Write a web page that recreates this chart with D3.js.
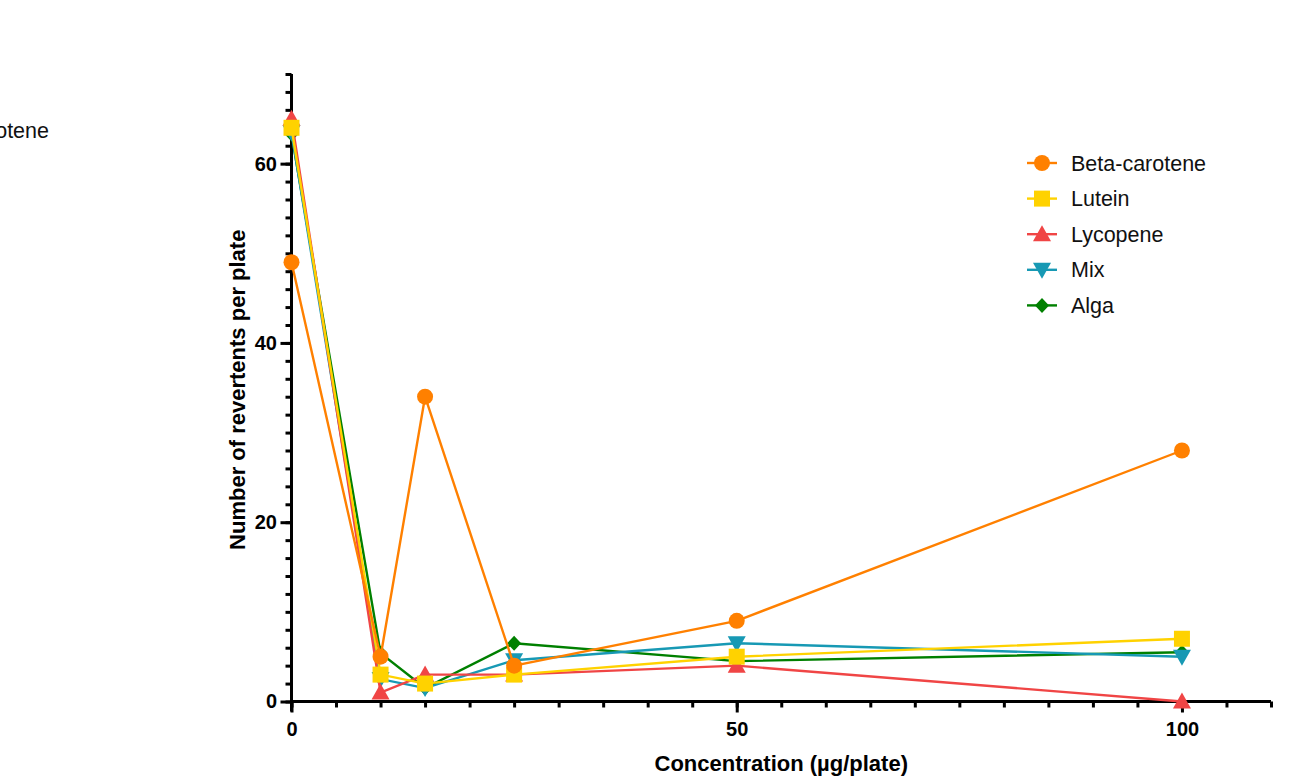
<!DOCTYPE html>
<html>
<head>
<meta charset="utf-8">
<script src="https://cdn.jsdelivr.net/npm/d3@7"></script>
<style>
  body { margin: 0; background: #fff; }
  svg { display: block; font-family: "Liberation Sans", Arial, sans-serif; }
</style>
</head>
<body>
<svg id="chart" width="1291" height="781"></svg>
<script>
// concentrations (µg/plate)
var concentrations = [0, 10, 15, 25, 50, 100];

var seriesNames = ["Beta-carotene", "Lutein", "Lycopene", "Mix", "Alga"];
var betaCarotene = [49, 5, 34, 4, 9, 28];
var lutein       = [64, 3, 2, 3, 5, 7];
var lycopene     = [65, 1, 3, 3, 4, 0];
var mix          = [63.5, 2.5, 1.5, 4.6, 6.5, 5];
var alga         = [63.3, 5.4, 1.5, 6.5, 4.5, 5.5];

var xTicksMajor = [0, 50, 100];
var yTicksMajor = [0, 20, 40, 60];

var colors = ["#ff8000", "#ffd200", "#f04545", "#1799b4", "#008000"];
var shapes = ["circle", "square", "triUp", "triDown", "diamond"];
var allValues = [betaCarotene, lutein, lycopene, mix, alga];

var svg = d3.select("#chart");

var x = d3.scaleLinear().domain([0, 110]).range([291.5, 1271]);
var y = d3.scaleLinear().domain([0, 70]).range([701.5, 74]);

// marker path generator
function marker(shape) {
  if (shape == "circle") return d3.symbol().type(d3.symbolCircle).size(Math.PI * 8 * 8)();
  if (shape == "square") return "M-8,-8H8V8H-8Z";
  if (shape == "triUp") return "M0,-9L9,7H-9Z";
  if (shape == "triDown") return "M0,9L9,-7H-9Z";
  if (shape == "diamond") return "M0,-7.5L7,0L0,7.5L-7,0Z";
}

// axes: minor ticks first, then majors with labels
var xMinor = d3.range(0, 111, 5);
var yMinor = d3.range(0, 71, 2);

svg.append("g")
  .attr("transform", "translate(0," + y(0) + ")")
  .call(d3.axisBottom(x).tickValues(xMinor).tickSize(6).tickFormat(""))
  .call(function(g) { g.select(".domain").remove(); })
  .selectAll("line").attr("stroke", "#000").attr("stroke-width", 3);

var xAxis = svg.append("g")
  .attr("transform", "translate(0," + y(0) + ")")
  .call(d3.axisBottom(x).tickValues(xTicksMajor).tickSize(11).tickSizeOuter(0).tickPadding(9.5));
xAxis.select(".domain").attr("stroke-width", 3).attr("d", "M" + (x(0) - 1.5) + ",0H" + x(110));
xAxis.selectAll("line").attr("stroke-width", 3);
xAxis.selectAll("text").attr("font-size", 20).attr("font-weight", "bold").attr("fill", "#000")
  .attr("font-family", "Liberation Sans, Arial, sans-serif");

svg.append("g")
  .attr("transform", "translate(" + x(0) + ",0)")
  .call(d3.axisLeft(y).tickValues(yMinor).tickSize(6).tickFormat(""))
  .call(function(g) { g.select(".domain").remove(); })
  .selectAll("line").attr("stroke", "#000").attr("stroke-width", 3);

var yAxis = svg.append("g")
  .attr("transform", "translate(" + x(0) + ",0)")
  .call(d3.axisLeft(y).tickValues(yTicksMajor).tickSize(11).tickSizeOuter(0).tickPadding(3.5));
yAxis.select(".domain").attr("stroke-width", 3).attr("d", "M0," + y(70) + "V" + (y(0) + 10));
yAxis.selectAll("line").attr("stroke-width", 3);
yAxis.selectAll("text").attr("font-size", 20).attr("font-weight", "bold").attr("fill", "#000")
  .attr("font-family", "Liberation Sans, Arial, sans-serif");

// axis titles
svg.append("text")
  .attr("x", (x(0) + x(110)) / 2).attr("y", 771)
  .attr("text-anchor", "middle").attr("font-size", 22).attr("font-weight", "bold")
  .text("Concentration (µg/plate)");

svg.append("text")
  .attr("transform", "translate(245," + ((y(0) + y(70)) / 2 + 2) + ") rotate(-90)")
  .attr("text-anchor", "middle").attr("font-size", 22).attr("font-weight", "bold")
  .text("Number of revertents per plate");

// series (drawn last-to-first so Beta-carotene is on top)
var line = d3.line()
  .x(function(d, i) { return x(concentrations[i]); })
  .y(function(d) { return y(d); });

for (var s = seriesNames.length - 1; s >= 0; s--) {
  var g = svg.append("g");
  g.append("path")
    .attr("d", line(allValues[s]))
    .attr("fill", "none").attr("stroke", colors[s]).attr("stroke-width", 2.4);
  g.selectAll(".pt")
    .data(allValues[s])
    .enter().append("path")
    .attr("transform", function(d, i) { return "translate(" + x(concentrations[i]) + "," + y(d) + ")"; })
    .attr("d", marker(shapes[s]))
    .attr("fill", colors[s]);
}

// legend
var legend = svg.append("g");
seriesNames.forEach(function(name, i) {
  var ly = 163 + i * 35.6;
  legend.append("line")
    .attr("x1", 1027).attr("x2", 1057).attr("y1", ly).attr("y2", ly)
    .attr("stroke", colors[i]).attr("stroke-width", 2.4);
  legend.append("path")
    .attr("transform", "translate(1042," + ly + ")")
    .attr("d", marker(shapes[i]))
    .attr("fill", colors[i]);
  legend.append("text")
    .attr("x", 1071).attr("y", ly + 7.5)
    .attr("font-size", 21.5).attr("fill", "#111")
    .text(name);
});

// legend label of a neighbouring panel, cut by the left edge as in the source image
svg.append("text")
  .attr("x", 49).attr("y", 138)
  .attr("text-anchor", "end").attr("font-size", 21.5).attr("fill", "#111")
  .text("Beta-carotene");
</script>
</body>
</html>
